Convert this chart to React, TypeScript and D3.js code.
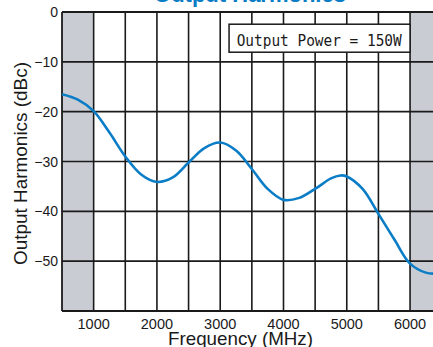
import React from "react";
import * as d3 from "d3";

const freqs = [500, 750, 1000, 1250, 1500, 1750, 2000, 2250, 2500, 2750, 3000, 3250, 3500, 3750, 4000, 4250, 4500, 4750, 4900, 5000, 5250, 5500, 5750, 6000, 6250, 6500];
const harmonics = [-16.5, -17.6, -19.9, -24.2, -29.0, -32.6, -34.1, -33.2, -30.2, -27.3, -26.2, -27.8, -31.5, -35.5, -37.7, -37.3, -35.5, -33.4, -32.8, -33.0, -35.5, -40.5, -45.6, -50.5, -52.3, -52.5];
const xTicks = [1000, 2000, 3000, 4000, 5000, 6000];
const xGrid = [1000, 1500, 2000, 2500, 3000, 3500, 4000, 4500, 5000, 5500, 6000];
const yTicks = [0, -10, -20, -30, -40, -50];
const grayBands = [[500, 1000], [6000, 6500]];
const title = "Output Harmonics";
const xTitle = "Frequency (MHz)";
const yTitle = "Output Harmonics (dBc)";
const boxLabel = "Output Power = 150W";

export default function App() {
  const W = 433, H = 347;
  const left = 62, right = 441.7, top = 12, bottom = 311;
  const x = d3.scaleLinear().domain([500, 6500]).range([left, right]);
  const y = d3.scaleLinear().domain([0, -60]).range([top, bottom]);
  const pts = freqs.map((f, i) => [f, harmonics[i]] as [number, number]);
  const line = d3.line<[number, number]>().x(d => x(d[0])).y(d => y(d[1])).curve(d3.curveCatmullRom.alpha(0.5));
  const gridColor = "#1a1a1a";
  return (
    <svg width={W} height={H} style={{ position: "absolute", left: 0, top: 0, background: "#fff" }} fontFamily="'Liberation Sans', Arial, sans-serif">
      <defs>
        <clipPath id="plotclip">
          <rect x={left} y={top} width={right - left} height={bottom - top} />
        </clipPath>
      </defs>
      <rect x={0} y={0} width={W} height={H} fill="#fff" />
      {grayBands.map((b, i) => (
        <rect key={i} x={x(b[0])} y={top} width={x(b[1]) - x(b[0])} height={bottom - top} fill="#c9ccd3" />
      ))}
      {xGrid.map(f => (
        <line key={f} x1={x(f)} x2={x(f)} y1={top} y2={bottom} stroke={gridColor} strokeWidth={1.6} />
      ))}
      {yTicks.map(v => (
        <line key={v} x1={left} x2={right} y1={y(v)} y2={y(v)} stroke={gridColor} strokeWidth={1.6} />
      ))}
      <line x1={left} x2={left} y1={top} y2={bottom} stroke={gridColor} strokeWidth={1.8} />
      <line x1={left} x2={right} y1={bottom} y2={bottom} stroke={gridColor} strokeWidth={1.8} />
      <line x1={left} x2={right} y1={top} y2={top} stroke={gridColor} strokeWidth={1.8} />
      <line x1={right} x2={right} y1={top} y2={bottom} stroke={gridColor} strokeWidth={1.8} />
      <path d={line(pts) || ""} fill="none" stroke="#0a7dc6" strokeWidth={2.6} clipPath="url(#plotclip)" />
      <rect x={x(6000) - 181} y={y(-2.45)} width={181} height={28} fill="#fff" stroke={gridColor} strokeWidth={1.5} />
      <text x={236.7} y={46} fontFamily="'DejaVu Sans Mono', 'Liberation Mono', monospace" fontSize={16} textLength={165} lengthAdjust="spacingAndGlyphs" fill="#1a1a1a">{boxLabel}</text>
      {yTicks.map(v => (
        <text key={v} x={58} y={y(v) + 5} textAnchor="end" fontSize={14} fill="#1a1a1a">{v === 0 ? "0" : "\u2212" + Math.abs(v)}</text>
      ))}
      {xTicks.map(f => (
        <text key={f} x={x(f)} y={329} textAnchor="middle" fontSize={14.5} fill="#1a1a1a">{f}</text>
      ))}
      <text x={240.5} y={345} textAnchor="middle" fontSize={19} fill="#1a1a1a" textLength={145} lengthAdjust="spacingAndGlyphs">{xTitle}</text>
      <text transform={`translate(27,163.5) rotate(-90)`} textAnchor="middle" fontSize={19} fill="#1a1a1a" textLength={203} lengthAdjust="spacingAndGlyphs">{yTitle}</text>
      <text x={250} y={1.8} textAnchor="middle" fontSize={22} fontWeight="bold" fill="#0a7dc6">{title}</text>
    </svg>
  );
}
